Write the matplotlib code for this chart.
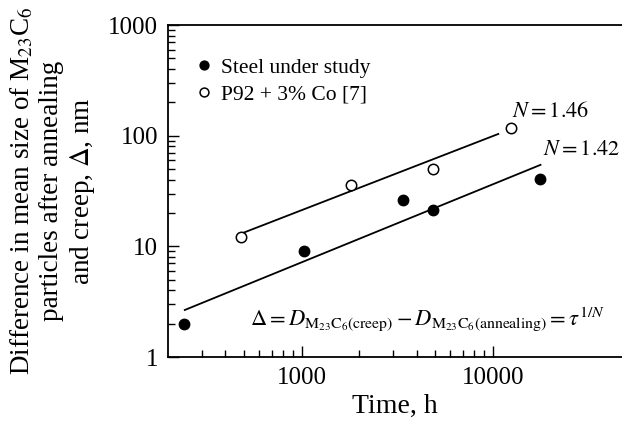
import matplotlib
matplotlib.use("Agg")
import matplotlib.pyplot as plt
import numpy as np
from matplotlib.ticker import FixedLocator, NullFormatter, LogLocator

plt.rcParams['font.family'] = ['Liberation Serif', 'DejaVu Serif']
plt.rcParams['mathtext.fontset'] = 'stix'

# Data
steel_time = [242, 1030, 3400, 4850, 17700]
steel_delta = [2.0, 9.0, 26.2, 21.1, 40.9]
p92_time = [481, 1810, 4850, 12400]
p92_delta = [12.2, 35.6, 49.8, 116.5]

# Fit lines (endpoints of fitted lines)
steel_fit_time = [245, 17800]
steel_fit_delta = [2.66, 54.5]
p92_fit_time = [487, 10700]
p92_fit_delta = [13.1, 103.6]

x_major = [1000, 10000]
x_minor = [300, 400, 500, 600, 700, 800, 900, 2000, 3000, 4000, 5000, 6000, 7000, 8000, 9000]
y_major = [1, 10, 100, 1000]

fig = plt.figure(figsize=(6.22, 4.21), dpi=100)
ax = fig.add_axes([0.270, 0.152, 0.73, 0.7886])
ax.set_xscale('log')
ax.set_yscale('log')
ax.set_xlim(200, 47500)
ax.set_ylim(1, 1000)

ax.plot(steel_fit_time, steel_fit_delta, color='black', lw=1.3)
ax.plot(p92_fit_time, p92_fit_delta, color='black', lw=1.3)
ax.plot(steel_time, steel_delta, 'o', color='black', ms=7.5, label='Steel under study')
ax.plot(p92_time, p92_delta, 'o', mfc='white', mec='black', mew=1.1, ms=7.5, label='P92 + 3% Co [7]')

ax.xaxis.set_major_locator(FixedLocator(x_major))
ax.xaxis.set_minor_locator(FixedLocator(x_minor))
ax.xaxis.set_minor_formatter(NullFormatter())
ax.set_xticklabels([str(v) for v in x_major])
ax.yaxis.set_major_locator(FixedLocator(y_major))
ax.yaxis.set_minor_locator(LogLocator(base=10, subs=np.arange(2, 10)))
ax.yaxis.set_minor_formatter(NullFormatter())
ax.set_yticklabels([str(v) for v in y_major])

ax.tick_params(which='both', direction='in', top=False, right=False, labelsize=18, width=1.0)
ax.tick_params(which='major', length=8, pad=7)
ax.tick_params(which='minor', length=5)
ax.spines['right'].set_visible(False)
for s in ['top', 'left', 'bottom']:
    ax.spines[s].set_linewidth(1.3)

ax.set_xlabel('Time, h', fontsize=20, labelpad=4)
ax.set_ylabel('Difference in mean size of M$_{23}$C$_6$\nparticles after annealing\nand creep, $\\Delta$, nm',
              fontsize=19.5, linespacing=1.2, labelpad=8)

leg = ax.legend(loc='upper left', bbox_to_anchor=(0.028, 0.947), frameon=False, fontsize=15.5,
                handlelength=0.8, handletextpad=0.37, labelspacing=0.3, markerscale=0.85,
                borderaxespad=0.3)

ax.text(12570, 163, '$N = 1.46$', fontsize=16, va='center', ha='left')
ax.text(18400, 74, '$N = 1.42$', fontsize=16, va='center', ha='left')
ax.text(536, 2.2,
        r'$\Delta = D_{\mathrm{M}_{23}\mathrm{C}_6(\mathrm{creep})} - D_{\mathrm{M}_{23}\mathrm{C}_6(\mathrm{annealing})} = \tau^{1/N}$',
        fontsize=16.2, va='center', ha='left')

fig.savefig('out.png', dpi=100)
